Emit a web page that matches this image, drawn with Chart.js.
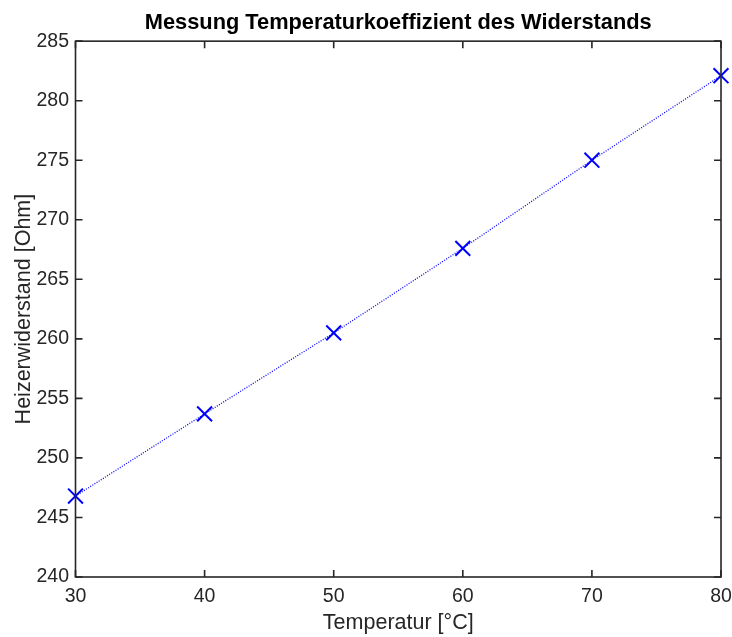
<!DOCTYPE html>
<html>
<head>
<meta charset="utf-8">
<script src="https://cdn.jsdelivr.net/npm/chart.js@4.4.0/dist/chart.umd.min.js"></script>
<style>
  html, body { margin: 0; padding: 0; background: #fff; }
  #wrap { width: 732px; height: 637px; }
</style>
</head>
<body>
<div id="wrap"><canvas id="TempChart"></canvas></div>
<script>
  // Messdaten
  const temperatur = [30, 40, 50, 60, 70, 80];
  const widerstand = [246.8, 253.7, 260.5, 267.6, 275.0, 282.1];
  const xTicks = [30, 40, 50, 60, 70, 80];
  const yTicks = [240, 245, 250, 255, 260, 265, 270, 275, 280, 285];

  const axisColor = '#262626';

  // box + inward ticks on all four sides (matlab style)
  const boxTicks = {
    id: 'boxTicks',
    afterLayout(chart) {
      // center title over the axes, not the canvas
      if (chart.titleBlock) {
        chart.titleBlock.left = chart.chartArea.left;
        chart.titleBlock.right = chart.chartArea.right;
      }
    },
    afterDraw(chart) {
      const { ctx, chartArea: a, scales } = chart;
      const len = 7;
      ctx.save();
      ctx.strokeStyle = axisColor;
      ctx.lineWidth = 1.6;
      ctx.strokeRect(a.left, a.top, a.right - a.left, a.bottom - a.top);
      ctx.beginPath();
      xTicks.forEach(v => {
        const x = scales.x.getPixelForValue(v);
        ctx.moveTo(x, a.bottom); ctx.lineTo(x, a.bottom - len);
        ctx.moveTo(x, a.top); ctx.lineTo(x, a.top + len);
      });
      yTicks.forEach(v => {
        const y = scales.y.getPixelForValue(v);
        ctx.moveTo(a.left, y); ctx.lineTo(a.left + len, y);
        ctx.moveTo(a.right, y); ctx.lineTo(a.right - len, y);
      });
      ctx.stroke();
      ctx.restore();
    }
  };

  const data = {
    datasets: [{
      label: 'Widerstand',
      data: temperatur.map((t, i) => ({ x: t, y: widerstand[i] })),
      borderColor: '#0000ff',
      backgroundColor: '#0000ff',
      borderWidth: 1.3,
      borderDash: [1, 1.5],
      pointStyle: 'crossRot',
      pointRadius: 10.5,
      pointHoverRadius: 10.5,
      pointBorderWidth: 2,
      clip: false,
      tension: 0
    }]
  };

  const config = {
    type: 'line',
    data: data,
    options: {
      responsive: true,
      maintainAspectRatio: false,
      animation: false,
      layout: { autoPadding: false, padding: { top: 10, right: 11, left: 10, bottom: 1 } },
      plugins: {
        legend: { display: false },
        tooltip: { enabled: false },
        title: {
          display: true,
          text: 'Messung Temperaturkoeffizient des Widerstands',
          color: '#000',
          font: { family: 'Liberation Sans', size: 21.8, weight: 'bold' },
          padding: { top: 0, bottom: 5 }
        }
      },
      scales: {
        x: {
          type: 'linear',
          min: 30, max: 80,
          afterBuildTicks: s => { s.ticks = xTicks.map(v => ({ value: v })); },
          afterFit: s => { s.height = 59; s.paddingLeft = 0; s.paddingRight = 0; },
          grid: { display: false, drawTicks: false },
          border: { display: false },
          ticks: { color: axisColor, font: { family: 'Liberation Sans', size: 19.5 }, padding: 8, maxRotation: 0 },
          title: { display: true, text: 'Temperatur [°C]', color: axisColor, font: { family: 'Liberation Sans', size: 21.5 }, padding: { top: 2, bottom: 0 } }
        },
        y: {
          type: 'linear',
          min: 240, max: 285,
          afterBuildTicks: s => { s.ticks = yTicks.map(v => ({ value: v })); },
          afterFit: s => { s.width = 65.5; s.paddingTop = 0; s.paddingBottom = 0; },
          grid: { display: false, drawTicks: false },
          border: { display: false },
          ticks: { color: axisColor, font: { family: 'Liberation Sans', size: 19.5 }, padding: 6.5 },
          title: { display: true, text: 'Heizerwiderstand [Ohm]', color: axisColor, font: { family: 'Liberation Sans', size: 21.5 }, padding: { top: 1, bottom: 0 } }
        }
      }
    },
    plugins: [boxTicks]
  };

  const TempChart = new Chart(document.getElementById('TempChart'), config);
</script>
</body>
</html>
